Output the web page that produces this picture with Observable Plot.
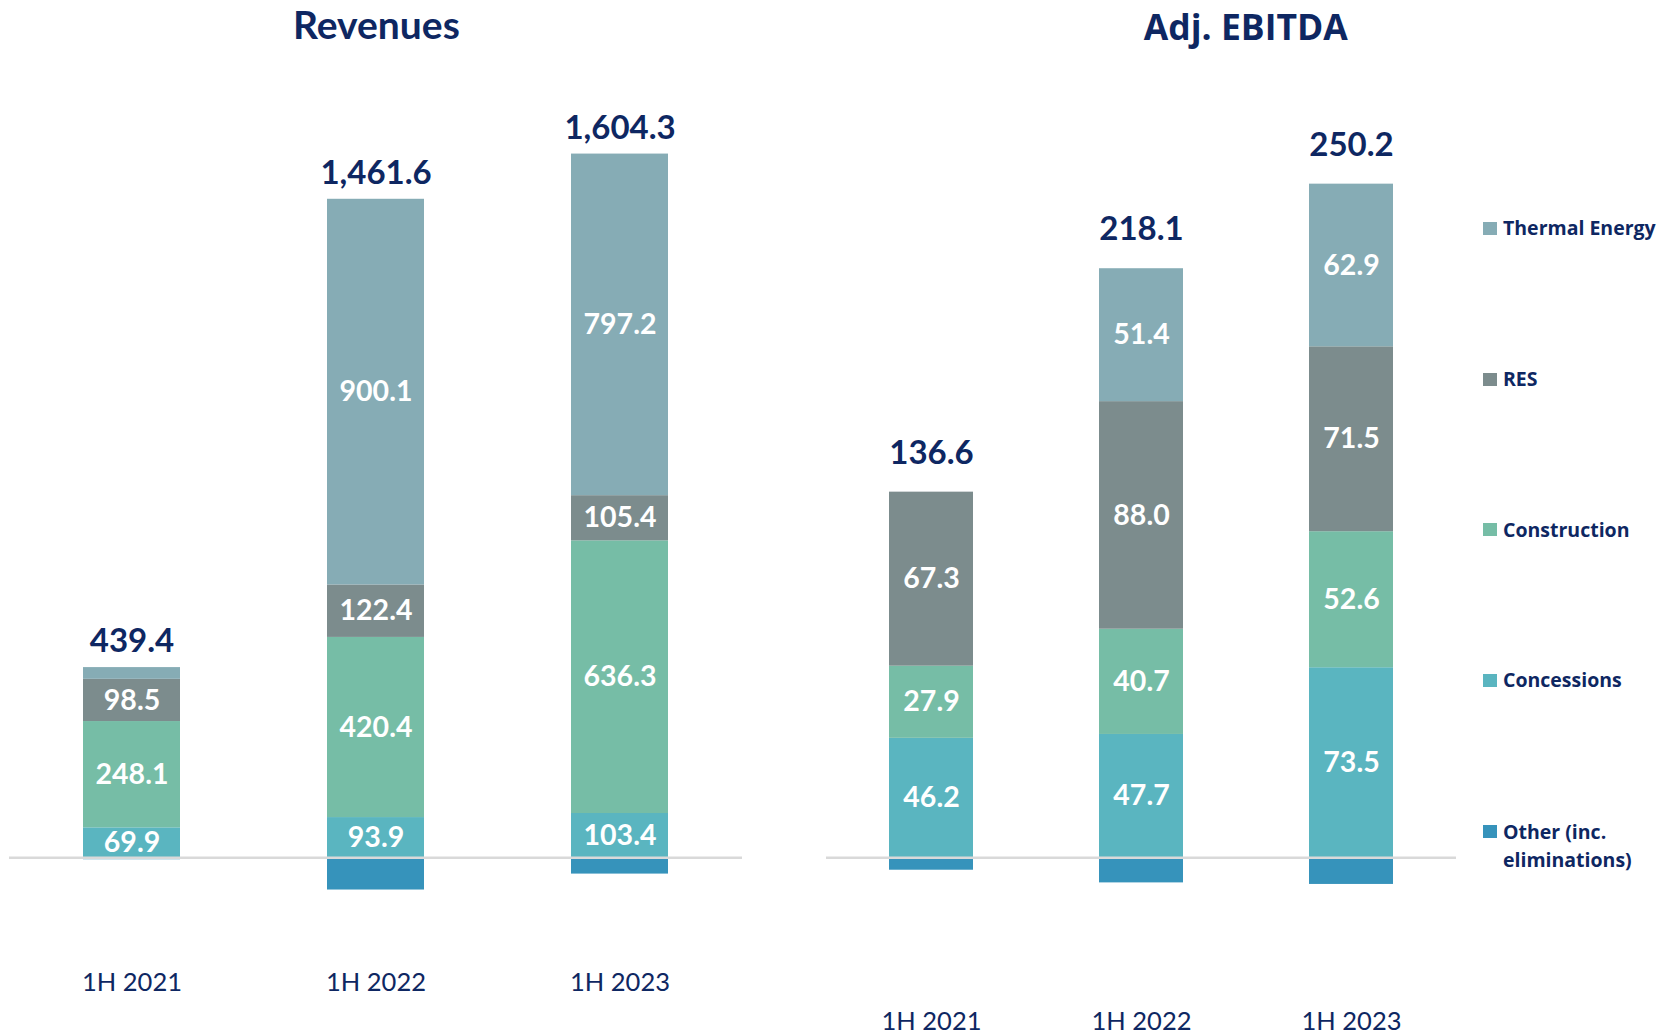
<!DOCTYPE html>
<html>
<head>
<meta charset="utf-8">
<script src="https://cdn.jsdelivr.net/npm/d3@7"></script>
<script src="https://cdn.jsdelivr.net/npm/@observablehq/plot@0.6"></script>
<style>
  html, body { margin: 0; padding: 0; background: #ffffff; }
  #root { position: relative; width: 1675px; height: 1036px; overflow: hidden; background: #ffffff; }
  .abs { position: absolute; }
  .title { color: #0E2762; font-weight: 700; text-align: center; white-space: nowrap; }
  .legend-item { position: absolute; display: flex; align-items: flex-start; font-family: "Open Sans", sans-serif; font-weight: 700; font-size: 19.5px; line-height: 28px; color: #0E2762; white-space: nowrap; }
  .swatch { width: 14px; height: 13px; margin-top: 7.5px; margin-right: 6px; flex: none; }
</style>
</head>
<body>
<div id="root"></div>
<script>
// ---------- data ----------
const periods = ["1H 2021", "1H 2022", "1H 2023"];
const segments = ["Concessions", "Construction", "RES", "Thermal Energy", "Other (inc. eliminations)"];
const segmentColors = ["#5AB5C0", "#76BDA6", "#7C8C8D", "#86ACB5", "#3693BB"];

// Revenues (EUR m)
const revConcessions = [69.9, 93.9, 103.4];
const revConstruction = [248.1, 420.4, 636.3];
const revRES = [98.5, 122.4, 105.4];
const revThermal = [27.4, 900.1, 797.2];
const revOther = [-4.5, -75.2, -38.0];
const revTotal = [439.4, 1461.6, 1604.3];

// Adj. EBITDA (EUR m)
const ebConcessions = [46.2, 47.7, 73.5];
const ebConstruction = [27.9, 40.7, 52.6];
const ebRES = [67.3, 88.0, 71.5];
const ebThermal = [0, 51.4, 62.9];
const ebOther = [-4.8, -9.7, -10.3];
const ebTotal = [136.6, 218.1, 250.2];

// legend
const legendOrder = ["Thermal Energy", "RES", "Construction", "Concessions", "Other (inc. eliminations)"];
const legendLabels = ["Thermal Energy", "RES", "Construction", "Concessions", "Other (inc.<br>eliminations)"];

// ---------- helpers ----------
const NAVY = "#0E2762";
const fmt = d3.format(",.1f");

function tidy(series) {
  const rows = [];
  segments.forEach((s, j) => {
    series[j].forEach((v, i) => rows.push({period: periods[i], segment: s, value: v}));
  });
  return rows;
}

function stackedChart(o) {
  const rows = tidy(o.series);
  const totalRows = periods.map((p, i) => ({
    period: p,
    total: o.totals[i],
    top: d3.sum(rows.filter(r => r.period === p && r.value > 0), r => r.value)
  }));
  return Plot.plot({
    width: o.width,
    height: o.height,
    marginTop: 0,
    marginLeft: o.marginLeft,
    marginRight: o.marginRight,
    marginBottom: o.marginBottom,
    style: {background: "transparent", fontFamily: "Lato, sans-serif", color: NAVY, overflow: "visible"},
    x: {domain: periods, paddingInner: o.paddingInner, paddingOuter: o.paddingOuter, label: null},
    y: {domain: o.yDomain, axis: null},
    color: {domain: segments, range: segmentColors},
    marks: [
      Plot.barY(rows, {x: "period", y: "value", fill: "segment", order: segments}),
      Plot.ruleY([0], {stroke: "#D9D9D9", strokeWidth: 2.5}),
      Plot.text(rows, Plot.stackY({
        x: "period", y: "value", z: "segment", order: segments,
        text: d => (d.segment !== segments[4] && d.value >= o.minLabel) ? fmt(d.value) : "",
        fill: "white", fontSize: 28.5, fontWeight: 700
      })),
      Plot.text(totalRows, {x: "period", y: "top", text: d => fmt(d.total), dy: o.totalDy, fill: NAVY, fontSize: 33, fontWeight: 700}),
      Plot.axisX({tickSize: 0, tickPadding: o.tickPadding, fontSize: 25.5, fill: NAVY, label: null})
    ]
  });
}

const root = document.getElementById("root");

// ---------- Revenues ----------
const revBox = document.createElement("div");
revBox.className = "abs";
revBox.style.left = "0px"; revBox.style.top = "0px";
revBox.appendChild(stackedChart({
  series: [revConcessions, revConstruction, revRES, revThermal, revOther],
  totals: revTotal,
  width: 760, height: 1036,
  marginLeft: 9, marginRight: 18, marginBottom: 76,
  paddingInner: 0.6008, paddingOuter: 0.3009,
  yDomain: [-239.67, 2000.7],
  tickPadding: 12, totalDy: -26, minLabel: 40
}));
root.appendChild(revBox);

// ---------- Adj. EBITDA ----------
const ebBox = document.createElement("div");
ebBox.className = "abs";
ebBox.style.left = "770px"; ebBox.style.top = "0px";
ebBox.appendChild(stackedChart({
  series: [ebConcessions, ebConstruction, ebRES, ebThermal, ebOther],
  totals: ebTotal,
  width: 700, height: 1036,
  marginLeft: 56, marginRight: 14, marginBottom: 36,
  paddingInner: 0.6009, paddingOuter: 0.2955,
  yDomain: [-55.18, 331.52],
  tickPadding: 11, totalDy: -39, minLabel: 5
}));
root.appendChild(ebBox);

// ---------- titles ----------
const t1 = document.createElement("div");
t1.className = "abs title";
t1.textContent = "Revenues";
Object.assign(t1.style, {left: "0px", width: "752.8px", top: "5px", fontFamily: "Lato, sans-serif", fontSize: "39px", lineHeight: "39px"});
root.appendChild(t1);

const t2 = document.createElement("div");
t2.className = "abs title";
t2.textContent = "Adj. EBITDA";
Object.assign(t2.style, {left: "945.8px", width: "600px", top: "8.5px", fontFamily: "'Open Sans', sans-serif", fontSize: "35.5px", lineHeight: "35.5px"});
root.appendChild(t2);

// ---------- legend ----------
const legendY = [228.3, 379, 529.5, 680, 831.5];
legendOrder.forEach((s, i) => {
  const item = document.createElement("div");
  item.className = "legend-item";
  item.style.left = "1483px";
  item.style.top = (legendY[i] - 14) + "px";
  const sw = document.createElement("div");
  sw.className = "swatch";
  sw.style.background = segmentColors[segments.indexOf(s)];
  const tx = document.createElement("div");
  tx.innerHTML = legendLabels[i];
  item.appendChild(sw); item.appendChild(tx);
  root.appendChild(item);
});
</script>
</body>
</html>
